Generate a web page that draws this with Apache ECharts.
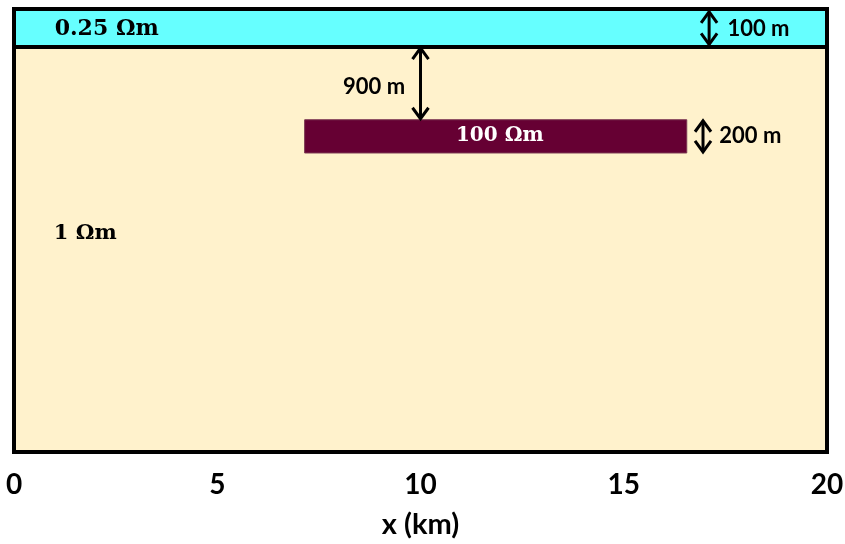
<!DOCTYPE html>
<html>
<head>
<meta charset="utf-8">
<script src="https://cdn.jsdelivr.net/npm/echarts@6/dist/echarts.min.js"></script>
<style>html,body{margin:0;padding:0;background:#fff}#c{width:845px;height:544px}</style>
</head>
<body>
<div id="c"></div>
<script>
// x ticks (km)
const xTicks = [0, 5, 10, 15, 20];
// Schematic depth axis (not to scale): 0 = surface, 1000 = model bottom
// Resistivity regions
const regionNames  = ['1 Ωm half-space', '0.25 Ωm layer', '100 Ωm block'];
const regionXStart = [0, 0, 7.15];
const regionXEnd   = [20, 20, 16.55];
const regionTop    = [0, 0, 250];
const regionBottom = [1000, 86, 325];
// Dimension arrows: x position (km), top and bottom (schematic depth)
const arrowX      = [17.1, 10.0, 16.95];
const arrowTop    = [4, 86, 250];
const arrowBottom = [82, 250, 325];
// Text labels
const labelText = ['0.25 Ωm', '100 m', '900 m', '100 Ωm', '200 m', '1 Ωm'];
const labelX    = [1.0, 17.55, 9.62, 11.95, 17.35, 0.98];
const labelY    = [45, 45, 176, 287, 287, 506];

const regionFill   = ['#FFF2CC', '#66FFFF', '#660033'];
const regionStroke = ['#000', '#000', '#7a3550'];
const regionLW     = [4, 4, 1];
const labelStyle = [
  {font: 'bold 22px "DejaVu Serif"', fill: '#000', align: 'left'},
  {font: 'bold 22px Lato', fill: '#000', align: 'left'},
  {font: 'bold 22px Lato', fill: '#000', align: 'right'},
  {font: 'bold 20px "DejaVu Serif"', fill: '#fff', align: 'center'},
  {font: 'bold 22px Lato', fill: '#000', align: 'left'},
  {font: 'bold 21px "DejaVu Serif"', fill: '#000', align: 'left'}
];

const regionData = regionNames.map((n, i) => ({name: n, value: [regionXStart[i], regionXEnd[i], regionTop[i], regionBottom[i]]}));
const arrowData = arrowX.map((x, i) => [x, arrowTop[i], arrowBottom[i]]);
const labelData = labelText.map((t, i) => ({name: t, value: [labelX[i], labelY[i]]}));

const chart = echarts.init(document.getElementById('c'), null, {renderer: 'canvas'});
chart.setOption({
  animation: false,
  grid: {left: 14, right: 18, top: 9, bottom: 92, containLabel: false, outerBoundsMode: 'none'},
  xAxis: {
    type: 'value', min: 0, max: 20, interval: 5,
    axisLine: {show: false}, axisTick: {show: false}, splitLine: {show: false},
    axisLabel: {
      margin: 19, fontSize: 28, fontWeight: 'bold', color: '#000',
      fontFamily: 'Lato, sans-serif',
      formatter: v => xTicks.includes(v) ? String(v) : ''
    },
    name: 'x (km)', nameLocation: 'middle', nameGap: 58,
    nameTextStyle: {fontSize: 29, fontWeight: 'bold', color: '#000', fontFamily: 'Lato, sans-serif'}
  },
  yAxis: {type: 'value', inverse: true, min: 0, max: 1000, show: false},
  series: [
    {
      type: 'custom', clip: false, data: regionData,
      renderItem: (params, api) => {
        const i = params.dataIndex;
        const p0 = api.coord([api.value(0), api.value(2)]);
        const p1 = api.coord([api.value(1), api.value(3)]);
        return {
          type: 'rect', z2: i,
          shape: {x: p0[0], y: p0[1], width: p1[0] - p0[0], height: p1[1] - p0[1]},
          style: {fill: regionFill[i], stroke: regionStroke[i], lineWidth: regionLW[i]}
        };
      }
    },
    {
      type: 'custom', clip: false, data: arrowData, z: 3,
      renderItem: (params, api) => {
        const a = api.coord([api.value(0), api.value(1)]);
        const b = api.coord([api.value(0), api.value(2)]);
        const x = a[0], y0 = a[1], y1 = b[1];
        const hw = 8, hh = 12;
        const st = {stroke: '#000', lineWidth: 3, fill: null, lineCap: 'butt', lineJoin: 'miter'};
        return {
          type: 'group', children: [
            {type: 'line', shape: {x1: x, y1: y0 + 1, x2: x, y2: y1 - 1}, style: st},
            {type: 'polyline', shape: {points: [[x - hw, y0 + hh], [x, y0 + 1], [x + hw, y0 + hh]]}, style: st},
            {type: 'polyline', shape: {points: [[x - hw, y1 - hh], [x, y1 - 1], [x + hw, y1 - hh]]}, style: st}
          ]
        };
      }
    },
    {
      type: 'custom', clip: false, data: labelData, z: 4,
      renderItem: (params, api) => {
        const i = params.dataIndex;
        const p = api.coord([api.value(0), api.value(1)]);
        const s = labelStyle[i];
        return {
          type: 'text', x: p[0], y: p[1],
          style: {text: labelText[i], font: s.font, fill: s.fill, align: s.align, verticalAlign: 'middle'}
        };
      }
    }
  ]
});
</script>
</body>
</html>
